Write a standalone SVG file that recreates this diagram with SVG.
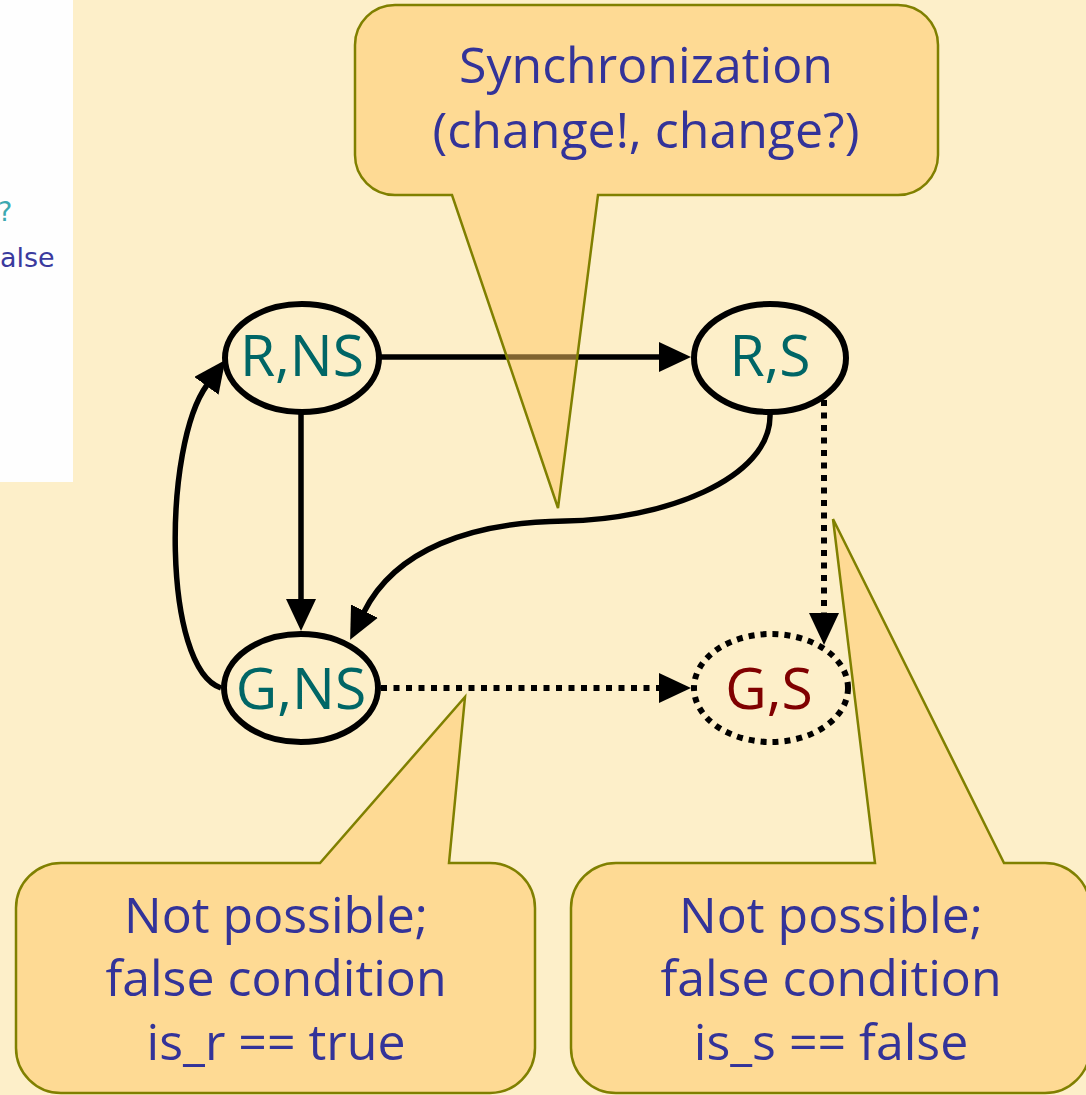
<svg xmlns="http://www.w3.org/2000/svg" width="1086" height="1095" viewBox="0 0 1086 1095">
  <style>
    .bg { fill: #FDEFC9; }
    .node { fill: #FDEFC9; stroke: #000; stroke-width: 6; }
    .node-dot { fill: #FDEFC9; stroke: #000; stroke-width: 6; stroke-dasharray: 6 6; }
    .lbl { font-family: "Open Sans", "Noto Sans", sans-serif; font-size: 57px; text-anchor: middle; fill: #006666; }
    .lbl-red { fill: #800000; }
    .edge { fill: none; stroke: #000; stroke-width: 5.5; }
    .edge-dot { fill: none; stroke: #000; stroke-width: 6; stroke-dasharray: 6 6.5; }
    .callout { fill: #FFC65F; fill-opacity: 0.5; stroke: #808000; stroke-width: 2.5; stroke-linejoin: miter; }
    .note { font-family: "Open Sans", "Noto Sans", sans-serif; font-size: 50px; text-anchor: middle; fill: #333399; }
    .side { font-family: "DejaVu Sans", Verdana, sans-serif; font-size: 27px; }
  </style>
  <defs>
    <marker id="arr" markerUnits="userSpaceOnUse" viewBox="0 0 32 30" markerWidth="32" markerHeight="30" refX="1" refY="15" orient="auto">
      <path d="M0,0 L32,15 L0,30 Z" fill="#000"/>
    </marker>
  </defs>

  <rect class="bg" x="0" y="0" width="1086" height="1095"/>

  <!-- side panel with clipped text -->
  <g id="side-panel">
    <rect x="0" y="0" width="73" height="482" fill="#FEFEFE"/>
    <text class="side" x="-2" y="221" fill="#3CA8B0">?</text>
    <text class="side" x="0" y="267" fill="#3A3A9E">alse</text>
  </g>

  <!-- transitions -->
  <g id="connectors">
    <path class="edge" d="M381 357 H660" marker-end="url(#arr)"/>
    <path class="edge" d="M301 414 V600" marker-end="url(#arr)"/>
    <path class="edge" d="M221 688 C162 668, 163 445, 207 385" marker-end="url(#arr)"/>
    <path class="edge" d="M770 414 C772 480, 660 520, 565 521 C470 522, 395 550, 364 612" marker-end="url(#arr)"/>
    <path class="edge-dot" d="M381 688 H660" marker-end="url(#arr)"/>
    <path class="edge-dot" d="M824 400 V614" marker-end="url(#arr)"/>
  </g>

  <!-- states -->
  <g id="node-r-ns">
    <ellipse class="node" cx="302" cy="358" rx="77" ry="54"/>
    <text class="lbl" x="302" y="376">R,NS</text>
  </g>
  <g id="node-r-s">
    <ellipse class="node" cx="770" cy="358" rx="76" ry="54"/>
    <text class="lbl" x="770" y="376">R,S</text>
  </g>
  <g id="node-g-ns">
    <ellipse class="node" cx="301" cy="688" rx="77" ry="54"/>
    <text class="lbl" x="301" y="709">G,NS</text>
  </g>
  <g id="node-g-s">
    <ellipse class="node-dot" cx="771" cy="688" rx="77" ry="54"/>
    <text class="lbl lbl-red" x="769" y="709">G,S</text>
  </g>

  <!-- callouts -->
  <g id="callout-sync">
    <path class="callout" d="M395 5 H898 A40 40 0 0 1 938 45 V155 A40 40 0 0 1 898 195 H598 L558 508 L452 195 H395 A40 40 0 0 1 355 155 V45 A40 40 0 0 1 395 5 Z"/>
    <text class="note" x="646" y="83">Synchronization</text>
    <text class="note" x="646" y="148">(change!, change?)</text>
  </g>
  <g id="callout-is-r">
    <path class="callout" d="M61 863 H320 L465 697 L449 863 H490 A45 45 0 0 1 535 908 V1048 A45 45 0 0 1 490 1093 H61 A45 45 0 0 1 16 1048 V908 A45 45 0 0 1 61 863 Z"/>
    <text class="note" x="276" y="933">Not possible;</text>
    <text class="note" x="276" y="996">false condition</text>
    <text class="note" x="276" y="1060">is_r == true</text>
  </g>
  <g id="callout-is-s">
    <path class="callout" d="M616 863 H875 L833 519 L1004 863 H1045 A45 45 0 0 1 1090 908 V1048 A45 45 0 0 1 1045 1093 H616 A45 45 0 0 1 571 1048 V908 A45 45 0 0 1 616 863 Z"/>
    <text class="note" x="831" y="933">Not possible;</text>
    <text class="note" x="831" y="996">false condition</text>
    <text class="note" x="831" y="1060">is_s == false</text>
  </g>
</svg>
